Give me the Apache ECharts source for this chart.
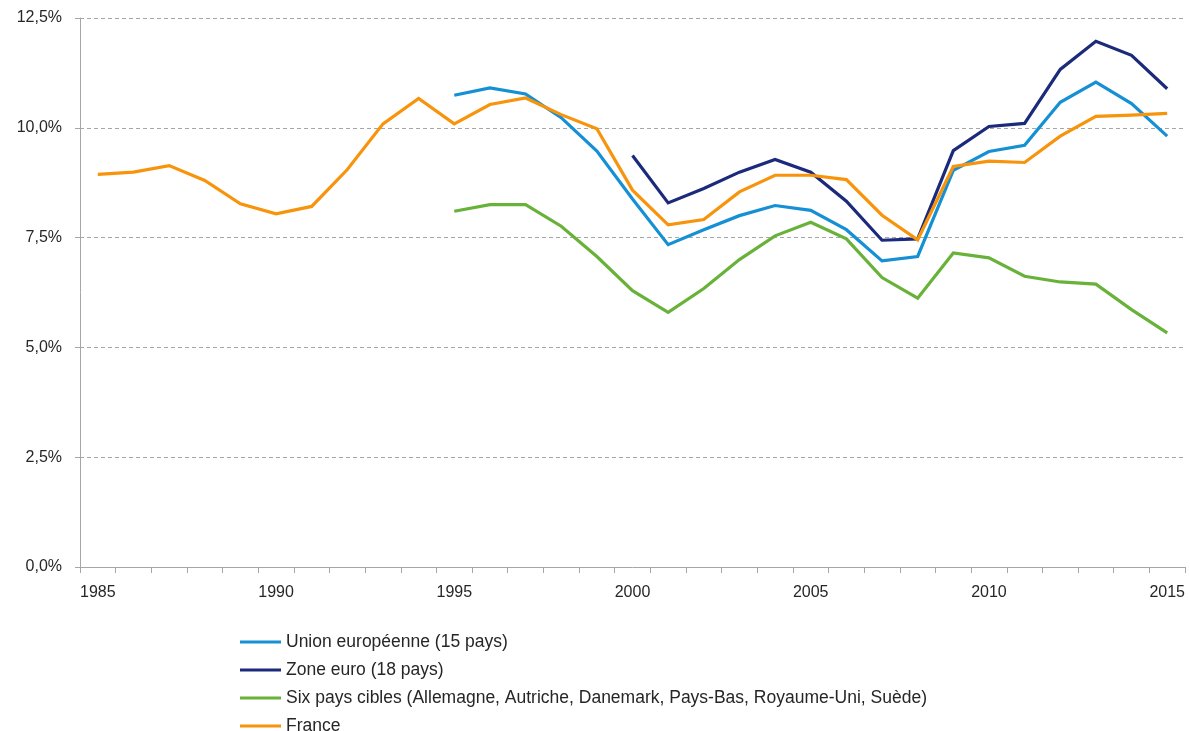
<!DOCTYPE html>
<html>
<head>
<meta charset="utf-8">
<script src="https://cdn.jsdelivr.net/npm/echarts@6/dist/echarts.min.js"></script>
<style>
  html, body { margin: 0; padding: 0; background: #fff; }
  #chart { width: 1190px; height: 731px; }
</style>
</head>
<body>
<div id="chart"></div>
<script>
// années 1985 -> 2015
const years = []
for (let y = 1985; y <= 2015; y++) years.push(String(y))

const seriesNames = [
  'Union européenne (15 pays)',
  'Zone euro (18 pays)',
  'Six pays cibles (Allemagne, Autriche, Danemark, Pays-Bas, Royaume-Uni, Suède)',
  'France'
]

const ue15 = [
  null, null, null, null, null, null, null, null, null, null,
  10.74, 10.91, 10.77, 10.23, 9.47, 8.38, 7.34, 7.68, 8.00, 8.23,
  8.12, 7.68, 6.97, 7.07, 9.03, 9.46, 9.60, 10.58, 11.04, 10.55, 9.81
]
const zoneEuro = [
  null, null, null, null, null, null, null, null, null, null,
  null, null, null, null, null, 9.37, 8.29, 8.62, 8.99, 9.28,
  8.99, 8.33, 7.44, 7.47, 9.48, 10.03, 10.10, 11.33, 11.97, 11.65, 10.89
]
const sixPays = [
  null, null, null, null, null, null, null, null, null, null,
  8.10, 8.25, 8.25, 7.76, 7.07, 6.29, 5.80, 6.34, 7.00, 7.54,
  7.85, 7.47, 6.59, 6.12, 7.15, 7.04, 6.62, 6.49, 6.44, 5.86, 5.33
]
const france = [
  8.94, 8.99, 9.14, 8.80, 8.27, 8.04, 8.21, 9.05, 10.09, 10.67,
  10.09, 10.53, 10.68, 10.30, 9.98, 8.58, 7.79, 7.91, 8.54, 8.92,
  8.92, 8.82, 8.01, 7.45, 9.12, 9.24, 9.21, 9.81, 10.26, 10.29, 10.33
]

const colors = ['#1590d4', '#1c2a7c', '#68b23a', '#f7940c']

const chart = echarts.init(document.getElementById('chart'))

const mkLine = (name, data, color) => ({
  name: name,
  type: 'line',
  data: data,
  symbol: 'none',
  connectNulls: false,
  lineStyle: { width: 3.2, color: color, join: 'miter' },
  itemStyle: { color: color },
  animation: false
})

chart.setOption({
  textStyle: { fontFamily: 'Liberation Sans' },
  grid: { left: 80, right: 5, top: 18, bottom: 164 },
  legend: {
    orient: 'vertical',
    left: 240,
    top: 633,
    height: 120,
    padding: 0,
    icon: 'rect',
    itemWidth: 41,
    itemHeight: 3,
    itemGap: 10,
    textStyle: { color: '#262626', fontSize: 17.5, lineHeight: 17 },
    data: seriesNames
  },
  xAxis: {
    type: 'category',
    data: years,
    boundaryGap: true,
    axisLine: { lineStyle: { color: '#a6a6a6', width: 1 } },
    axisTick: { show: true, interval: 0, length: 6, lineStyle: { color: '#a6a6a6', width: 1 } },
    axisLabel: { interval: 4, color: '#262626', fontSize: 16, margin: 18 },
    splitLine: { show: false }
  },
  yAxis: {
    type: 'value',
    min: 0,
    max: 12.5,
    interval: 2.5,
    axisLine: { show: true, lineStyle: { color: '#a6a6a6', width: 1 } },
    axisTick: { show: true, length: 5, lineStyle: { color: '#a6a6a6' } },
    axisLabel: {
      color: '#262626',
      fontSize: 16,
      margin: 18,
      formatter: v => v.toFixed(1).replace('.', ',') + '%'
    },
    splitLine: { lineStyle: { color: '#a6a6a6', type: [4, 3], width: 1 } }
  },
  series: [
    mkLine(seriesNames[0], ue15, colors[0]),
    mkLine(seriesNames[1], zoneEuro, colors[1]),
    mkLine(seriesNames[2], sixPays, colors[2]),
    mkLine(seriesNames[3], france, colors[3])
  ]
})
</script>
</body>
</html>
